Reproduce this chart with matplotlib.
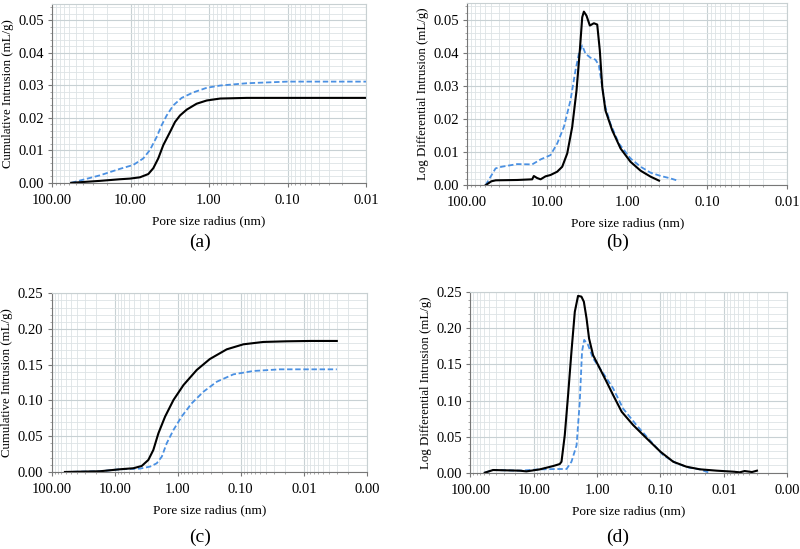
import matplotlib.pyplot as plt
import numpy as np
from matplotlib.ticker import FixedLocator, FixedFormatter, MultipleLocator, LogLocator

plt.rcParams['font.family'] = ['Liberation Serif', 'DejaVu Serif']

# (a) cumulative intrusion, sample 1
a_black_r = [57, 24.5, 13.6, 10.1, 7.57, 5.93, 5.12, 4.43, 3.82, 3.14, 2.71, 2.34, 1.92, 1.44, 1.07, 0.72,
             0.33, 0.10, 0.01]
a_black_v = [0.0, 0.0006, 0.0011, 0.0013, 0.0017, 0.0027, 0.0045, 0.0075, 0.0116, 0.0156, 0.0187, 0.0207,
             0.0225, 0.0243, 0.0253, 0.0259, 0.0261, 0.0261, 0.0261]
a_blue_r = [57, 24.5, 13.6, 9.2, 6.87, 5.65, 4.64, 4.01, 3.46, 2.85, 2.23, 1.58, 1.07, 0.72, 0.33, 0.10, 0.01]
a_blue_v = [0.0, 0.0023, 0.0043, 0.0055, 0.0075, 0.0101, 0.0141, 0.0177, 0.0207, 0.0238, 0.0261, 0.0278,
            0.0292, 0.0299, 0.0306, 0.0311, 0.0311]

# (b) log differential intrusion, sample 1
b_black_r = [59, 50, 44, 23.7, 15.4, 14.7, 13.4, 12.1, 10.5, 9.1, 7.5, 6.49, 5.62, 4.87, 4.3, 3.91, 3.65,
             3.48, 3.23, 2.93, 2.61, 2.37, 2.2, 2.05, 1.87, 1.54, 1.21, 0.91, 0.68, 0.51, 0.40]
b_black_v = [0.0, 0.0012, 0.0015, 0.0016, 0.0018, 0.0028, 0.0022, 0.0018, 0.0027, 0.0031, 0.0041, 0.0056,
             0.0096, 0.0176, 0.0286, 0.0407, 0.0507, 0.0524, 0.0512, 0.0482, 0.0489, 0.0485, 0.0407, 0.0296,
             0.0226, 0.0166, 0.0111, 0.0071, 0.0044, 0.0026, 0.0014]
b_blue_r = [59, 44.2, 37, 23.7, 15.4, 12.1, 9.1, 7.5, 6.19, 5.12, 4.43, 4.02, 3.65, 3.32, 2.88, 2.49, 2.26,
            2.05, 1.87, 1.62, 1.27, 0.91, 0.68, 0.51, 0.38, 0.30, 0.226]
b_blue_v = [0.0, 0.0051, 0.0056, 0.0064, 0.0063, 0.0078, 0.0091, 0.0126, 0.0176, 0.0256, 0.0347, 0.0397,
            0.0422, 0.0397, 0.0385, 0.0379, 0.0362, 0.0296, 0.0236, 0.0186, 0.0126, 0.0081, 0.0056, 0.0038,
            0.0028, 0.0022, 0.0013]

# (c) cumulative intrusion, sample 2
c_black_r = [61.6, 17.1, 8.24, 5.07, 3.73, 2.93, 2.44, 2.03, 1.59, 1.17, 0.81, 0.50, 0.31, 0.167, 0.091,
             0.044, 0.019, 0.0079, 0.003]
c_black_v = [0.0, 0.001, 0.0038, 0.0052, 0.0084, 0.0168, 0.0308, 0.054, 0.0774, 0.1007, 0.1217, 0.1427,
             0.158, 0.1716, 0.1786, 0.1819, 0.1828, 0.1833, 0.1833]
c_blue_r = [61.6, 17.1, 8.24, 3.97, 2.75, 2.16, 1.79, 1.50, 1.17, 0.87, 0.60, 0.39, 0.24, 0.131, 0.063,
            0.024, 0.0079, 0.003]
c_blue_v = [0.0, 0.001, 0.0038, 0.0047, 0.0075, 0.0121, 0.0215, 0.040, 0.0588, 0.0774, 0.0961, 0.1124,
            0.1263, 0.1366, 0.1413, 0.1436, 0.1436, 0.1436]

# (d) log differential intrusion, sample 2
d_black_r = [59.4, 43.9, 16.6, 13.1, 8.04, 4.95, 3.89, 3.65, 3.24, 2.87, 2.54, 2.25, 2.0, 1.77, 1.62, 1.47,
             1.34, 1.16, 0.91, 0.71, 0.56, 0.41, 0.27, 0.166, 0.10, 0.063, 0.039, 0.024, 0.013, 0.0071,
             0.0056, 0.0047, 0.0036, 0.003]
d_black_v = [0.0, 0.0037, 0.0028, 0.0018, 0.0046, 0.0092, 0.012, 0.0152, 0.052, 0.108, 0.168, 0.223, 0.245,
             0.244, 0.237, 0.214, 0.186, 0.163, 0.1447, 0.126, 0.1077, 0.0845, 0.066, 0.0477, 0.029, 0.0152,
             0.0083, 0.0047, 0.0028, 0.0014, 0.0005, 0.0023, 0.0009, 0.0028]
d_blue_r = [59.4, 43.9, 16.6, 8.04, 4.95, 3.89, 3.04, 2.54, 2.11, 1.88, 1.73, 1.60, 1.39, 1.16, 0.80, 0.56,
            0.39, 0.24, 0.148, 0.091, 0.056, 0.035, 0.024, 0.017]
d_blue_v = [0.0, 0.0037, 0.0028, 0.0046, 0.0050, 0.0051, 0.0051, 0.0152, 0.038, 0.098, 0.168, 0.184, 0.177,
            0.1585, 0.1377, 0.117, 0.089, 0.066, 0.0453, 0.0245, 0.013, 0.0069, 0.0047, 0.0]

blue = '#4a90e2'


def setup(ax, xmin, xticks, xlabels, ymax, ymajor, yminor, ylabel):
    ax.set_xscale('log')
    ax.set_xlim(100, xmin)
    ax.set_ylim(0, ymax)
    ax.xaxis.set_major_locator(FixedLocator(xticks))
    ax.xaxis.set_major_formatter(FixedFormatter(xlabels))
    ax.xaxis.set_minor_locator(LogLocator(base=10, subs=np.arange(2, 10) * 1.0, numticks=20))
    ax.xaxis.set_minor_formatter(FixedFormatter([]))
    ax.yaxis.set_major_locator(MultipleLocator(ymajor))
    ax.yaxis.set_minor_locator(MultipleLocator(yminor))
    ax.yaxis.set_major_formatter(plt.FuncFormatter(lambda v, p: '{:.2f}'.format(v)))
    ax.grid(which='major', color='#c8d1d4', lw=0.8)
    ax.grid(which='minor', color='#dde3e5', lw=0.6)
    ax.set_axisbelow(True)
    for s in ['top', 'right']:
        ax.spines[s].set_color('#c8d0d2')
    for s in ['left', 'bottom']:
        ax.spines[s].set_color('#777777')
    ax.tick_params(which='major', length=3, color='#777777', labelsize=10.5, pad=3)
    ax.tick_params(which='minor', length=1.5, color='#999999')
    ax.tick_params(axis='x', which='major', pad=5)
    ax.set_xlabel('Pore size radius (nm)', fontsize=9.5, labelpad=6)
    ax.set_ylabel(ylabel, fontsize=9.3, labelpad=3)


fig = plt.figure(figsize=(8, 5.49), dpi=100)

ax_a = fig.add_axes([0.065, 0.667, 0.3925, 0.326])
ax_b = fig.add_axes([0.584, 0.6625, 0.40, 0.332])
ax_c = fig.add_axes([0.0646, 0.1403, 0.394, 0.3255])
ax_d = fig.add_axes([0.588, 0.139, 0.396, 0.3286])

x4 = [100, 10, 1, 0.1, 0.01]
x4l = ['100.00', '10.00', '1.00', '0.10', '0.01']
x5 = [100, 10, 1, 0.1, 0.01, 0.001]
x5l = ['100.00', '10.00', '1.00', '0.10', '0.01', '0.00']

setup(ax_a, 0.01, x4, x4l, 0.055, 0.01, 0.002, 'Cumulative Intrusion (mL/g)')
setup(ax_b, 0.01, x4, x4l, 0.055, 0.01, 0.002, 'Log Differential Intrusion (mL/g)')
setup(ax_c, 0.001, x5, x5l, 0.25, 0.05, 0.01, 'Cumulative Intrusion (mL/g)')
setup(ax_d, 0.001, x5, x5l, 0.25, 0.05, 0.01, 'Log Differential Intrusion (mL/g)')

for ax, br, bv, ur, uv in [(ax_a, a_black_r, a_black_v, a_blue_r, a_blue_v),
                           (ax_b, b_black_r, b_black_v, b_blue_r, b_blue_v),
                           (ax_c, c_black_r, c_black_v, c_blue_r, c_blue_v),
                           (ax_d, d_black_r, d_black_v, d_blue_r, d_blue_v)]:
    ax.plot(ur, uv, color=blue, lw=1.3, ls=(0, (3, 1.5)), solid_joinstyle='round')
    ax.plot(br, bv, color='black', lw=1.5, solid_joinstyle='round')

for x, y, t in [(0.25, 0.558, '(a)'), (0.772, 0.558, '(b)'), (0.25, 0.022, '(c)'), (0.772, 0.022, '(d)')]:
    fig.text(x, y, t, fontsize=14, ha='center', va='center')

fig.savefig('out.png', dpi=100)
